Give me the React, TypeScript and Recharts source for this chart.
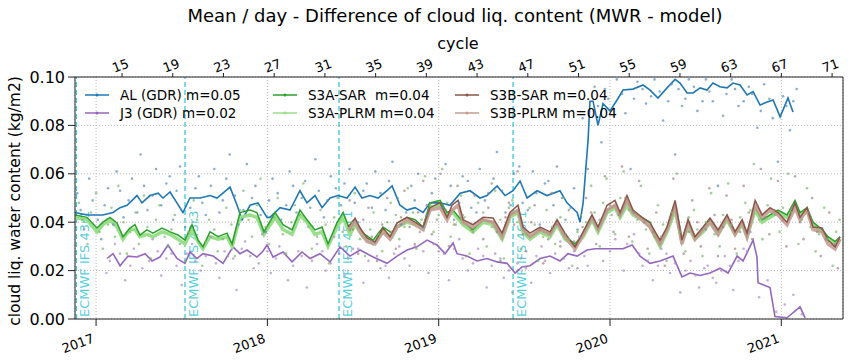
import React from 'react';
import { ComposedChart, Line, Scatter, XAxis, YAxis, CartesianGrid, ReferenceLine } from 'recharts';

const FONT = '"DejaVu Sans", Verdana, sans-serif';

// axes
const YEAR_TICKS = [2017, 2018, 2019, 2020, 2021];
const CYCLE_TICKS = [15, 19, 23, 27, 31, 35, 39, 43, 47, 51, 55, 59, 63, 67, 71];
const Y_TICKS = [0, 0.02, 0.04, 0.06, 0.08, 0.1];
const X_DOMAIN: [number, number] = [2016.877, 2021.36];
const CYCLE_DOMAIN: [number, number] = [11.29, 71.86];

// ECMWF model changes (decimal year)
const IFS_DATES = [2016.885, 2017.519, 2018.418, 2019.434];
const IFS_LABELS = ['ECMWF IFS 43r1', 'ECMWF IFS 43r3', 'ECMWF IFS 45r1', 'ECMWF IFS 46r1'];

const LEGEND_LABELS = ['AL (GDR) m=0.05', 'J3 (GDR) m=0.02', 'S3A-SAR  m=0.04', 'S3A-PLRM m=0.04', 'S3B-SAR m=0.04', 'S3B-PLRM m=0.04'];

// running means [decimal year, kg/m2]
const AL_MEAN: [number, number][] = [
  [2016.877, 0.044], [2016.947, 0.043], [2017.04, 0.043], [2017.099, 0.044], [2017.14, 0.046], [2017.181, 0.047],
  [2017.239, 0.051], [2017.268, 0.048], [2017.315, 0.051], [2017.362, 0.052], [2017.391, 0.05], [2017.432, 0.0525],
  [2017.472, 0.048], [2017.507, 0.044], [2017.548, 0.05], [2017.607, 0.05], [2017.665, 0.051], [2017.706, 0.05],
  [2017.782, 0.0545], [2017.823, 0.047], [2017.852, 0.041], [2017.899, 0.047], [2017.945, 0.048], [2017.998, 0.042],
  [2018.015, 0.042], [2018.074, 0.046], [2018.132, 0.045], [2018.19, 0.053], [2018.231, 0.048], [2018.278, 0.051],
  [2018.319, 0.046], [2018.366, 0.05], [2018.412, 0.051], [2018.465, 0.05], [2018.512, 0.0545], [2018.552, 0.05],
  [2018.599, 0.051], [2018.646, 0.05], [2018.698, 0.053], [2018.728, 0.055], [2018.774, 0.047], [2018.815, 0.045],
  [2018.862, 0.046], [2018.909, 0.044], [2018.949, 0.048], [2019.008, 0.048], [2019.066, 0.047], [2019.125, 0.052],
  [2019.183, 0.053], [2019.241, 0.05], [2019.282, 0.051], [2019.341, 0.055], [2019.387, 0.051], [2019.434, 0.053],
  [2019.475, 0.057], [2019.516, 0.05], [2019.574, 0.053], [2019.632, 0.051], [2019.708, 0.053], [2019.749, 0.048],
  [2019.808, 0.044], [2019.825, 0.04], [2019.843, 0.048], [2019.872, 0.074], [2019.883, 0.09], [2019.901, 0.09],
  [2019.93, 0.08], [2019.959, 0.089], [2020.0, 0.086], [2020.041, 0.0905], [2020.076, 0.0946], [2020.134, 0.095],
  [2020.193, 0.0967], [2020.234, 0.0946], [2020.28, 0.0913], [2020.333, 0.0955], [2020.38, 0.099], [2020.409, 0.0975],
  [2020.45, 0.0934], [2020.485, 0.0934], [2020.526, 0.0955], [2020.566, 0.0946], [2020.601, 0.0975], [2020.642, 0.096],
  [2020.683, 0.0955], [2020.718, 0.0975], [2020.759, 0.0967], [2020.8, 0.0926], [2020.835, 0.094], [2020.876, 0.0884],
  [2020.917, 0.0897], [2020.952, 0.0905], [2020.993, 0.0835], [2021.039, 0.0913], [2021.068, 0.0855],
];

const J3_MEAN: [number, number][] = [
  [2017.064, 0.025], [2017.099, 0.027], [2017.14, 0.022], [2017.186, 0.026], [2017.239, 0.0256], [2017.286, 0.027],
  [2017.327, 0.024], [2017.373, 0.0256], [2017.42, 0.0306], [2017.472, 0.025], [2017.519, 0.023], [2017.548, 0.0277],
  [2017.589, 0.025], [2017.624, 0.027], [2017.683, 0.026], [2017.741, 0.023], [2017.799, 0.0298], [2017.84, 0.027],
  [2017.881, 0.0285], [2017.939, 0.0256], [2017.974, 0.028], [2017.998, 0.0306], [2018.033, 0.0256], [2018.091, 0.0277],
  [2018.144, 0.0236], [2018.202, 0.0277], [2018.249, 0.025], [2018.307, 0.027], [2018.366, 0.0236], [2018.424, 0.0298],
  [2018.482, 0.026], [2018.541, 0.0285], [2018.617, 0.0256], [2018.698, 0.023], [2018.757, 0.026], [2018.815, 0.0285],
  [2018.873, 0.0298], [2018.932, 0.0326], [2018.99, 0.0306], [2019.037, 0.027], [2019.084, 0.0314], [2019.107, 0.027],
  [2019.165, 0.026], [2019.224, 0.024], [2019.282, 0.025], [2019.341, 0.0236], [2019.399, 0.023], [2019.446, 0.019],
  [2019.486, 0.0215], [2019.533, 0.022], [2019.592, 0.025], [2019.65, 0.026], [2019.708, 0.024], [2019.755, 0.027],
  [2019.808, 0.026], [2019.866, 0.0285], [2019.913, 0.029], [2020.076, 0.029], [2020.129, 0.0306], [2020.175, 0.026],
  [2020.234, 0.023], [2020.292, 0.024], [2020.368, 0.026], [2020.42, 0.0174], [2020.467, 0.019], [2020.526, 0.018],
  [2020.584, 0.019], [2020.642, 0.021], [2020.689, 0.019], [2020.742, 0.026], [2020.777, 0.024], [2020.835, 0.0326],
  [2020.858, 0.0256], [2020.864, 0.015], [2020.934, 0.013], [2020.963, 0.001], [2021.033, 0.0005], [2021.109, 0.005],
  [2021.139, 0.0005],
];

const S3A_SAR: [number, number][] = [
  [2016.877, 0.043], [2016.947, 0.042], [2017.005, 0.0376], [2017.04, 0.04], [2017.081, 0.042], [2017.122, 0.0397],
  [2017.157, 0.034], [2017.198, 0.0376], [2017.227, 0.039], [2017.256, 0.0347], [2017.297, 0.0368], [2017.332, 0.0355],
  [2017.385, 0.0376], [2017.432, 0.036], [2017.478, 0.0347], [2017.519, 0.0326], [2017.56, 0.039], [2017.595, 0.0326],
  [2017.624, 0.0298], [2017.665, 0.036], [2017.712, 0.034], [2017.764, 0.0355], [2017.794, 0.031], [2017.84, 0.044],
  [2017.899, 0.045], [2017.939, 0.044], [2017.98, 0.036], [2018.045, 0.044], [2018.091, 0.039], [2018.144, 0.0368],
  [2018.19, 0.045], [2018.231, 0.041], [2018.278, 0.0368], [2018.319, 0.038], [2018.354, 0.031], [2018.406, 0.0397],
  [2018.442, 0.044], [2018.482, 0.0368], [2018.512, 0.041], [2018.558, 0.0355], [2018.617, 0.0326], [2018.675, 0.038],
  [2018.728, 0.0355], [2018.757, 0.0397], [2018.815, 0.042], [2018.862, 0.041], [2018.909, 0.038], [2018.949, 0.048],
  [2019.008, 0.049], [2019.049, 0.044], [2019.084, 0.045], [2019.142, 0.04], [2019.2, 0.037], [2019.259, 0.041],
  [2019.317, 0.04], [2019.37, 0.034], [2019.416, 0.043], [2019.463, 0.045], [2019.492, 0.037], [2019.533, 0.034],
  [2019.592, 0.037], [2019.65, 0.035], [2019.691, 0.04], [2019.737, 0.034], [2019.796, 0.031], [2019.843, 0.035],
  [2019.895, 0.042], [2019.93, 0.037], [2019.983, 0.045], [2020.029, 0.047], [2020.059, 0.043], [2020.099, 0.049],
  [2020.134, 0.044], [2020.187, 0.042], [2020.234, 0.04], [2020.292, 0.031], [2020.333, 0.037], [2020.38, 0.047],
  [2020.42, 0.033], [2020.456, 0.04], [2020.496, 0.034], [2020.543, 0.037], [2020.584, 0.041], [2020.631, 0.036],
  [2020.683, 0.042], [2020.73, 0.036], [2020.771, 0.04], [2020.8, 0.035], [2020.847, 0.046], [2020.888, 0.041],
  [2020.934, 0.043], [2020.981, 0.045], [2021.033, 0.043], [2021.08, 0.049], [2021.109, 0.044], [2021.15, 0.046],
  [2021.185, 0.04], [2021.238, 0.037], [2021.273, 0.034], [2021.314, 0.032], [2021.343, 0.034],
];

const S3A_PLRM: [number, number][] = [
  [2016.877, 0.042], [2016.947, 0.041], [2017.005, 0.036], [2017.04, 0.039], [2017.081, 0.041], [2017.122, 0.038],
  [2017.157, 0.033], [2017.198, 0.037], [2017.227, 0.037], [2017.256, 0.034], [2017.297, 0.035], [2017.332, 0.034],
  [2017.385, 0.036], [2017.432, 0.035], [2017.478, 0.033], [2017.519, 0.031], [2017.56, 0.037], [2017.595, 0.032],
  [2017.624, 0.029], [2017.665, 0.034], [2017.712, 0.033], [2017.764, 0.034], [2017.794, 0.03], [2017.84, 0.042],
  [2017.899, 0.043], [2017.939, 0.042], [2017.98, 0.035], [2018.045, 0.042], [2018.091, 0.037], [2018.144, 0.035],
  [2018.19, 0.043], [2018.231, 0.04], [2018.278, 0.035], [2018.319, 0.036], [2018.354, 0.03], [2018.406, 0.038],
  [2018.442, 0.042], [2018.482, 0.035], [2018.512, 0.039], [2018.558, 0.034], [2018.617, 0.031], [2018.675, 0.036],
  [2018.728, 0.034], [2018.757, 0.038], [2018.815, 0.04], [2018.862, 0.039], [2018.909, 0.037], [2018.949, 0.046],
  [2019.008, 0.047], [2019.049, 0.043], [2019.084, 0.044], [2019.142, 0.039], [2019.2, 0.036], [2019.259, 0.04],
  [2019.317, 0.039], [2019.37, 0.033], [2019.416, 0.042], [2019.463, 0.044], [2019.492, 0.036], [2019.533, 0.033],
  [2019.592, 0.036], [2019.65, 0.034], [2019.691, 0.039], [2019.737, 0.033], [2019.796, 0.03], [2019.843, 0.034],
  [2019.895, 0.041], [2019.93, 0.036], [2019.983, 0.044], [2020.029, 0.046], [2020.059, 0.042], [2020.099, 0.047],
  [2020.134, 0.043], [2020.187, 0.041], [2020.234, 0.038], [2020.292, 0.03], [2020.333, 0.036], [2020.38, 0.045],
  [2020.42, 0.032], [2020.456, 0.038], [2020.496, 0.033], [2020.543, 0.036], [2020.584, 0.04], [2020.631, 0.035],
  [2020.683, 0.041], [2020.73, 0.035], [2020.771, 0.039], [2020.8, 0.034], [2020.847, 0.045], [2020.888, 0.04],
  [2020.934, 0.042], [2020.981, 0.044], [2021.033, 0.042], [2021.08, 0.047], [2021.109, 0.043], [2021.15, 0.045],
  [2021.185, 0.039], [2021.238, 0.036], [2021.273, 0.033], [2021.314, 0.031], [2021.343, 0.033],
];

const S3B_SAR: [number, number][] = [
  [2018.471, 0.038], [2018.512, 0.0417], [2018.541, 0.0376], [2018.582, 0.0335], [2018.628, 0.0318], [2018.675, 0.0376],
  [2018.716, 0.034], [2018.757, 0.0397], [2018.815, 0.042], [2018.862, 0.04], [2018.909, 0.038], [2018.949, 0.046],
  [2019.008, 0.048], [2019.049, 0.042], [2019.078, 0.047], [2019.113, 0.049], [2019.142, 0.041], [2019.2, 0.039],
  [2019.259, 0.042], [2019.317, 0.0417], [2019.37, 0.0355], [2019.416, 0.044], [2019.463, 0.047], [2019.492, 0.038],
  [2019.533, 0.0355], [2019.592, 0.038], [2019.65, 0.036], [2019.691, 0.041], [2019.737, 0.0355], [2019.796, 0.0298],
  [2019.843, 0.036], [2019.895, 0.043], [2019.93, 0.038], [2019.983, 0.047], [2020.029, 0.049], [2020.059, 0.044],
  [2020.099, 0.051], [2020.134, 0.045], [2020.187, 0.042], [2020.234, 0.0397], [2020.292, 0.0326], [2020.333, 0.038],
  [2020.38, 0.049], [2020.42, 0.0326], [2020.456, 0.041], [2020.496, 0.034], [2020.543, 0.038], [2020.584, 0.0417],
  [2020.631, 0.0368], [2020.683, 0.043], [2020.73, 0.036], [2020.771, 0.041], [2020.8, 0.0355], [2020.847, 0.049],
  [2020.888, 0.043], [2020.934, 0.046], [2020.981, 0.044], [2021.033, 0.04], [2021.08, 0.048], [2021.109, 0.042],
  [2021.15, 0.046], [2021.185, 0.038], [2021.238, 0.0376], [2021.273, 0.0326], [2021.314, 0.0298], [2021.343, 0.034],
];

const S3B_PLRM: [number, number][] = [
  [2018.471, 0.037], [2018.512, 0.04], [2018.541, 0.036], [2018.582, 0.032], [2018.628, 0.031], [2018.675, 0.036],
  [2018.716, 0.033], [2018.757, 0.038], [2018.815, 0.041], [2018.862, 0.039], [2018.909, 0.037], [2018.949, 0.045],
  [2019.008, 0.046], [2019.049, 0.041], [2019.078, 0.045], [2019.113, 0.047], [2019.142, 0.04], [2019.2, 0.038],
  [2019.259, 0.041], [2019.317, 0.04], [2019.37, 0.034], [2019.416, 0.043], [2019.463, 0.045], [2019.492, 0.037],
  [2019.533, 0.034], [2019.592, 0.037], [2019.65, 0.035], [2019.691, 0.04], [2019.737, 0.034], [2019.796, 0.029],
  [2019.843, 0.035], [2019.895, 0.042], [2019.93, 0.037], [2019.983, 0.045], [2020.029, 0.047], [2020.059, 0.043],
  [2020.099, 0.049], [2020.134, 0.044], [2020.187, 0.041], [2020.234, 0.038], [2020.292, 0.031], [2020.333, 0.037],
  [2020.38, 0.047], [2020.42, 0.031], [2020.456, 0.04], [2020.496, 0.033], [2020.543, 0.037], [2020.584, 0.04],
  [2020.631, 0.035], [2020.683, 0.042], [2020.73, 0.035], [2020.771, 0.04], [2020.8, 0.034], [2020.847, 0.047],
  [2020.888, 0.042], [2020.934, 0.045], [2020.981, 0.043], [2021.033, 0.039], [2021.08, 0.046], [2021.109, 0.041],
  [2021.15, 0.045], [2021.185, 0.037], [2021.238, 0.036], [2021.273, 0.031], [2021.314, 0.029], [2021.343, 0.033],
];

// daily values (faint dots)
const AL_DAILY: [number, number][] = [
  [2016.89, 0.052], [2016.93, 0.037], [2016.98, 0.049], [2017.03, 0.033], [2017.07, 0.054], [2017.12, 0.061],
  [2017.16, 0.042], [2017.21, 0.058], [2017.26, 0.068], [2017.3, 0.045], [2017.35, 0.062], [2017.41, 0.056],
  [2017.45, 0.041], [2017.49, 0.063], [2017.55, 0.046], [2017.6, 0.059], [2017.64, 0.043], [2017.69, 0.062],
  [2017.74, 0.049], [2017.78, 0.068], [2017.83, 0.039], [2017.88, 0.064], [2017.93, 0.055], [2017.99, 0.036],
  [2018.03, 0.058], [2018.08, 0.041], [2018.13, 0.061], [2018.17, 0.044], [2018.22, 0.057], [2018.28, 0.066],
  [2018.33, 0.042], [2018.37, 0.059], [2018.43, 0.047], [2018.48, 0.062], [2018.53, 0.04], [2018.58, 0.056],
  [2018.63, 0.061], [2018.69, 0.045], [2018.73, 0.065], [2018.78, 0.039], [2018.84, 0.055], [2018.88, 0.06],
  [2018.93, 0.043], [2018.98, 0.058], [2019.04, 0.064], [2019.09, 0.041], [2019.14, 0.059], [2019.19, 0.046],
  [2019.24, 0.062], [2019.29, 0.052], [2019.34, 0.069], [2019.39, 0.044], [2019.44, 0.06], [2019.49, 0.048],
  [2019.55, 0.061], [2019.59, 0.039], [2019.64, 0.057], [2019.69, 0.063], [2019.74, 0.041], [2019.79, 0.054],
  [2019.84, 0.083], [2019.87, 0.062], [2019.91, 0.096], [2019.95, 0.073], [2019.99, 0.091], [2020.04, 0.099],
  [2020.09, 0.085], [2020.12, 0.062], [2020.16, 0.098], [2020.21, 0.089], [2020.26, 0.099], [2020.31, 0.082],
  [2020.36, 0.097], [2020.38, 0.068], [2020.42, 0.088], [2020.46, 0.099], [2020.51, 0.086], [2020.56, 0.099],
  [2020.6, 0.09], [2020.63, 0.055], [2020.66, 0.084], [2020.71, 0.099], [2020.75, 0.088], [2020.81, 0.096],
  [2020.86, 0.079], [2020.9, 0.097], [2020.95, 0.083], [2020.98, 0.065], [2021.01, 0.092], [2021.05, 0.078],
  [2021.09, 0.095],
  [2016.91, 0.045], [2016.96, 0.058], [2017.01, 0.041], [2017.05, 0.047], [2017.1, 0.039], [2017.14, 0.053],
  [2017.19, 0.049], [2017.24, 0.044], [2017.28, 0.055], [2017.33, 0.051], [2017.38, 0.047], [2017.43, 0.059],
  [2017.47, 0.053], [2017.52, 0.038], [2017.58, 0.054], [2017.62, 0.048], [2017.67, 0.055], [2017.72, 0.044],
  [2017.76, 0.058], [2017.81, 0.051], [2017.86, 0.045], [2017.91, 0.05], [2017.96, 0.043], [2018.01, 0.049],
  [2018.06, 0.052], [2018.11, 0.047], [2018.15, 0.055], [2018.2, 0.05], [2018.25, 0.046], [2018.3, 0.053],
  [2018.35, 0.049], [2018.4, 0.054], [2018.45, 0.056], [2018.51, 0.048], [2018.56, 0.053], [2018.61, 0.046],
  [2018.66, 0.052], [2018.71, 0.057], [2018.76, 0.05], [2018.81, 0.044], [2018.86, 0.049], [2018.91, 0.038],
  [2018.96, 0.052], [2019.02, 0.046], [2019.07, 0.055], [2019.12, 0.048], [2019.17, 0.057], [2019.22, 0.044],
  [2019.27, 0.049], [2019.32, 0.058], [2019.37, 0.053], [2019.42, 0.047], [2019.47, 0.063], [2019.52, 0.045],
  [2019.57, 0.052], [2019.62, 0.056], [2019.67, 0.047], [2019.72, 0.05], [2019.77, 0.046], [2019.81, 0.037],
  [2019.93, 0.088], [2019.97, 0.095], [2020.02, 0.087], [2020.07, 0.093], [2020.14, 0.091], [2020.19, 0.095],
  [2020.24, 0.092], [2020.29, 0.094], [2020.34, 0.09], [2020.4, 0.095], [2020.44, 0.091], [2020.49, 0.096],
  [2020.54, 0.09], [2020.58, 0.094], [2020.68, 0.093], [2020.73, 0.095], [2020.78, 0.09], [2020.83, 0.093],
  [2020.88, 0.086], [2020.93, 0.091], [2021.03, 0.088], [2021.07, 0.09],
];

const J3_DAILY: [number, number][] = [
  [2017.06, 0.019], [2017.11, 0.031], [2017.17, 0.016], [2017.22, 0.029], [2017.27, 0.021], [2017.33, 0.033],
  [2017.38, 0.018], [2017.44, 0.027], [2017.5, 0.014], [2017.56, 0.031], [2017.61, 0.02], [2017.67, 0.034],
  [2017.72, 0.017], [2017.77, 0.026], [2017.82, 0.012], [2017.87, 0.032], [2017.92, 0.021], [2017.97, 0.035],
  [2018.02, 0.019], [2018.07, 0.03], [2018.12, 0.016], [2018.18, 0.028], [2018.23, 0.013], [2018.29, 0.031],
  [2018.34, 0.02], [2018.39, 0.034], [2018.45, 0.018], [2018.5, 0.029], [2018.56, 0.015], [2018.61, 0.032],
  [2018.66, 0.021], [2018.71, 0.017], [2018.77, 0.03], [2018.83, 0.022], [2018.89, 0.036], [2018.94, 0.019],
  [2019.0, 0.028], [2019.06, 0.016], [2019.12, 0.033], [2019.17, 0.02], [2019.23, 0.029], [2019.28, 0.013],
  [2019.33, 0.027], [2019.38, 0.017], [2019.43, 0.011], [2019.48, 0.025], [2019.54, 0.015], [2019.6, 0.03],
  [2019.65, 0.019], [2019.71, 0.032], [2019.76, 0.021], [2019.82, 0.034], [2019.87, 0.022], [2019.96, 0.024],
  [2020.03, 0.033], [2020.08, 0.02], [2020.14, 0.035], [2020.19, 0.022], [2020.25, 0.016], [2020.3, 0.029],
  [2020.35, 0.019], [2020.41, 0.011], [2020.47, 0.024], [2020.52, 0.013], [2020.57, 0.022], [2020.62, 0.015],
  [2020.67, 0.026], [2020.72, 0.012], [2020.78, 0.029], [2020.82, 0.036], [2020.87, 0.009], [2020.92, 0.016],
  [2020.97, 0.003], [2021.02, 0.006], [2021.07, 0.01], [2021.12, 0.002],
  [2017.08, 0.024], [2017.14, 0.027], [2017.2, 0.022], [2017.25, 0.026], [2017.31, 0.024], [2017.36, 0.028],
  [2017.41, 0.025], [2017.47, 0.022], [2017.53, 0.027], [2017.58, 0.024], [2017.64, 0.026], [2017.7, 0.023],
  [2017.75, 0.028], [2017.8, 0.025], [2017.85, 0.029], [2017.9, 0.026], [2017.95, 0.023], [2018.0, 0.028],
  [2018.05, 0.025], [2018.1, 0.027], [2018.15, 0.022], [2018.2, 0.026], [2018.26, 0.024], [2018.32, 0.028],
  [2018.37, 0.023], [2018.42, 0.027], [2018.47, 0.025], [2018.53, 0.029], [2018.59, 0.024], [2018.64, 0.026],
  [2018.69, 0.022], [2018.74, 0.027], [2018.8, 0.025], [2018.86, 0.03], [2018.91, 0.028], [2018.97, 0.031],
  [2019.03, 0.027], [2019.09, 0.029], [2019.14, 0.025], [2019.2, 0.023], [2019.26, 0.026], [2019.31, 0.022],
  [2019.36, 0.025], [2019.41, 0.02], [2019.46, 0.023], [2019.51, 0.021], [2019.57, 0.026], [2019.62, 0.024],
  [2019.68, 0.027], [2019.73, 0.025], [2019.79, 0.028], [2019.85, 0.026], [2020.0, 0.028], [2020.1, 0.031],
  [2020.17, 0.027], [2020.22, 0.024], [2020.28, 0.022], [2020.33, 0.027], [2020.38, 0.023], [2020.44, 0.02],
  [2020.5, 0.018], [2020.55, 0.021], [2020.6, 0.017], [2020.65, 0.02], [2020.7, 0.022], [2020.75, 0.024],
  [2020.8, 0.028],
];

const S3A_DAILY: [number, number][] = [
  [2016.9, 0.048], [2016.95, 0.031], [2017.0, 0.052], [2017.04, 0.029], [2017.09, 0.046], [2017.13, 0.055],
  [2017.18, 0.027], [2017.23, 0.044], [2017.28, 0.051], [2017.32, 0.025], [2017.37, 0.047], [2017.42, 0.03],
  [2017.46, 0.043], [2017.52, 0.024], [2017.57, 0.049], [2017.62, 0.022], [2017.66, 0.041], [2017.71, 0.028],
  [2017.76, 0.046], [2017.81, 0.026], [2017.86, 0.053], [2017.91, 0.034], [2017.96, 0.058], [2018.01, 0.031],
  [2018.06, 0.05], [2018.11, 0.027], [2018.16, 0.047], [2018.21, 0.056], [2018.26, 0.029], [2018.31, 0.045],
  [2018.36, 0.023], [2018.41, 0.05], [2018.46, 0.03], [2018.51, 0.052], [2018.57, 0.026], [2018.62, 0.044],
  [2018.67, 0.028], [2018.72, 0.048], [2018.77, 0.033], [2018.82, 0.054], [2018.87, 0.029], [2018.92, 0.059],
  [2018.97, 0.036], [2019.02, 0.062], [2019.07, 0.034], [2019.13, 0.051], [2019.18, 0.027], [2019.23, 0.048],
  [2019.28, 0.03], [2019.33, 0.053], [2019.38, 0.025], [2019.43, 0.049], [2019.48, 0.029], [2019.53, 0.046],
  [2019.58, 0.024], [2019.63, 0.045], [2019.68, 0.031], [2019.73, 0.05], [2019.78, 0.022], [2019.83, 0.043],
  [2019.89, 0.055], [2019.94, 0.03], [2019.98, 0.058], [2020.03, 0.035], [2020.08, 0.061], [2020.13, 0.032],
  [2020.18, 0.055], [2020.23, 0.027], [2020.28, 0.047], [2020.33, 0.024], [2020.39, 0.06], [2020.44, 0.028],
  [2020.49, 0.045], [2020.54, 0.026], [2020.59, 0.052], [2020.64, 0.03], [2020.69, 0.056], [2020.74, 0.027],
  [2020.79, 0.048], [2020.84, 0.064], [2020.89, 0.033], [2020.94, 0.058], [2020.99, 0.036], [2021.04, 0.06],
  [2021.1, 0.031], [2021.15, 0.054], [2021.2, 0.028], [2021.25, 0.046], [2021.3, 0.022], [2021.34, 0.041],
  [2016.92, 0.041], [2016.97, 0.044], [2017.02, 0.036], [2017.07, 0.039], [2017.11, 0.034], [2017.16, 0.04],
  [2017.2, 0.036], [2017.25, 0.031], [2017.3, 0.038], [2017.35, 0.041], [2017.4, 0.034], [2017.44, 0.037],
  [2017.49, 0.031], [2017.54, 0.036], [2017.59, 0.041], [2017.64, 0.032], [2017.69, 0.037], [2017.74, 0.033],
  [2017.79, 0.039], [2017.84, 0.045], [2017.89, 0.041], [2017.94, 0.047], [2017.99, 0.038], [2018.04, 0.042],
  [2018.09, 0.035], [2018.14, 0.04], [2018.19, 0.043], [2018.24, 0.038], [2018.29, 0.034], [2018.34, 0.039],
  [2018.39, 0.042], [2018.44, 0.036], [2018.49, 0.04], [2018.54, 0.033], [2018.6, 0.037], [2018.65, 0.035],
  [2018.7, 0.04], [2018.75, 0.043], [2018.8, 0.038], [2018.85, 0.044], [2018.9, 0.041], [2018.95, 0.047],
  [2019.0, 0.043], [2019.05, 0.048], [2019.1, 0.039], [2019.15, 0.042], [2019.2, 0.036], [2019.26, 0.044],
  [2019.31, 0.038], [2019.36, 0.041], [2019.41, 0.046], [2019.46, 0.04], [2019.51, 0.035], [2019.56, 0.039],
  [2019.61, 0.034], [2019.66, 0.038], [2019.71, 0.042], [2019.76, 0.033], [2019.81, 0.036], [2019.86, 0.04],
  [2019.91, 0.044], [2019.96, 0.048], [2020.01, 0.043], [2020.06, 0.05], [2020.11, 0.045], [2020.16, 0.041],
  [2020.21, 0.037], [2020.26, 0.034], [2020.31, 0.039], [2020.36, 0.044], [2020.41, 0.036], [2020.46, 0.042],
  [2020.51, 0.037], [2020.56, 0.04], [2020.61, 0.035], [2020.66, 0.043], [2020.71, 0.039], [2020.76, 0.042],
  [2020.82, 0.045], [2020.87, 0.041], [2020.92, 0.047], [2020.96, 0.043], [2021.01, 0.046], [2021.06, 0.044],
  [2021.12, 0.041], [2021.17, 0.038], [2021.22, 0.035], [2021.27, 0.033], [2021.32, 0.036],
];

const S3B_DAILY: [number, number][] = [
  [2018.48, 0.049], [2018.53, 0.027], [2018.59, 0.046], [2018.64, 0.024], [2018.7, 0.05], [2018.75, 0.029],
  [2018.8, 0.053], [2018.86, 0.031], [2018.91, 0.057], [2018.96, 0.035], [2019.01, 0.06], [2019.06, 0.03],
  [2019.11, 0.055], [2019.16, 0.026], [2019.21, 0.051], [2019.26, 0.033], [2019.31, 0.056], [2019.36, 0.024],
  [2019.41, 0.048], [2019.46, 0.061], [2019.51, 0.028], [2019.56, 0.047], [2019.61, 0.023], [2019.66, 0.052],
  [2019.71, 0.03], [2019.76, 0.045], [2019.81, 0.021], [2019.86, 0.05], [2019.92, 0.031], [2019.97, 0.059],
  [2020.02, 0.036], [2020.07, 0.063], [2020.11, 0.034], [2020.17, 0.057], [2020.22, 0.029], [2020.27, 0.044],
  [2020.32, 0.022], [2020.37, 0.058], [2020.43, 0.027], [2020.48, 0.049], [2020.53, 0.03], [2020.58, 0.054],
  [2020.63, 0.026], [2020.68, 0.051], [2020.73, 0.029], [2020.78, 0.055], [2020.83, 0.033], [2020.88, 0.062],
  [2020.93, 0.035], [2020.98, 0.057], [2021.03, 0.03], [2021.08, 0.059], [2021.13, 0.033], [2021.18, 0.05],
  [2021.23, 0.026], [2021.28, 0.044], [2021.33, 0.021],
  [2018.5, 0.037], [2018.56, 0.041], [2018.61, 0.034], [2018.67, 0.039], [2018.72, 0.036], [2018.78, 0.042],
  [2018.83, 0.038], [2018.88, 0.044], [2018.93, 0.047], [2018.99, 0.041], [2019.04, 0.045], [2019.09, 0.039],
  [2019.14, 0.043], [2019.19, 0.037], [2019.24, 0.041], [2019.29, 0.046], [2019.34, 0.036], [2019.39, 0.042],
  [2019.44, 0.039], [2019.49, 0.035], [2019.54, 0.04], [2019.59, 0.037], [2019.64, 0.033], [2019.69, 0.039],
  [2019.74, 0.035], [2019.79, 0.032], [2019.84, 0.038], [2019.89, 0.044], [2019.94, 0.041], [2020.0, 0.047],
  [2020.05, 0.043], [2020.09, 0.05], [2020.14, 0.044], [2020.2, 0.04], [2020.25, 0.036], [2020.3, 0.034],
  [2020.35, 0.042], [2020.4, 0.038], [2020.46, 0.036], [2020.51, 0.04], [2020.56, 0.037], [2020.61, 0.043],
  [2020.66, 0.038], [2020.71, 0.041], [2020.76, 0.036], [2020.81, 0.044], [2020.86, 0.047], [2020.91, 0.042],
  [2020.96, 0.045], [2021.01, 0.041], [2021.06, 0.046], [2021.11, 0.04], [2021.16, 0.044], [2021.21, 0.036],
  [2021.26, 0.033], [2021.31, 0.031],
];

const COLORS = {
  al: '#1f77b4',
  j3: '#9467bd',
  s3aSar: '#2ca02c',
  s3aPlrm: '#98df8a',
  s3bSar: '#8c564b',
  s3bPlrm: '#c49c94',
};

const toPoints = (rows: [number, number][]) => rows.map(([t, v]) => ({ t, v }));

// only there so the top (cycle) axis gets drawn
const cycleAnchor = CYCLE_TICKS.map((c) => ({ c, v: null }));

const dotShape = (fill: string) => (props: any) => {
  if (props.cx == null || props.cy == null) return <g />;
  return <circle cx={props.cx} cy={props.cy} r={1.3} fill={fill} fillOpacity={0.7} />;
};

const CycleTick = ({ x, y, payload }: any) => (
  <text x={x} y={y - 1} transform={`rotate(-20 ${x} ${y - 1})`} textAnchor="middle" fontSize={13} fontFamily={FONT} fill="#000">
    {payload.value}
  </text>
);

const YearTick = ({ x, y, payload }: any) => (
  <text x={x - 1} y={y + 14} transform={`rotate(-20 ${x - 1} ${y + 14})`} textAnchor="end" fontSize={13} fontFamily={FONT} fill="#000">
    {payload.value}
  </text>
);

const IfsLabel = ({ viewBox, text }: any) => {
  if (!viewBox) return null;
  const x = viewBox.x + 13;
  const y = viewBox.y + viewBox.height - 2;
  return (
    <text x={x} y={y} transform={`rotate(-90 ${x} ${y})`} fontSize={13} fontFamily={FONT} fill="#17becf" fillOpacity={0.75}>
      {text}
    </text>
  );
};

const LegendSwatch: React.FC<{ color: string }> = ({ color }) => (
  <svg width={24} height={10} style={{ display: 'block' }}>
    <line x1={0} y1={5} x2={24} y2={5} stroke={color} strokeWidth={1.5} />
    <circle cx={12} cy={5} r={1.5} fill={color} />
  </svg>
);

const LEGEND_COLORS = [COLORS.al, COLORS.j3, COLORS.s3aSar, COLORS.s3aPlrm, COLORS.s3bSar, COLORS.s3bPlrm];
const LEGEND_POS = [
  [85, 95], [85, 113], [273, 95], [273, 113], [455, 95], [455, 113],
];

const App: React.FC = () => {
  return (
    <div style={{ position: 'absolute', left: 0, top: 0, width: 850, height: 360, background: '#fff', fontFamily: FONT }}>
      <div style={{ position: 'absolute', left: 0, width: 910, top: 5, textAlign: 'center', fontSize: 18, color: '#000' }}>
        Mean / day - Difference of cloud liq. content (MWR - model)
      </div>
      <div style={{ position: 'absolute', left: 458, top: 34, transform: 'translateX(-50%)', fontSize: 16, color: '#000' }}>
        cycle
      </div>
      <div
        style={{
          position: 'absolute', left: 15, top: 201, transform: 'translate(-50%, -50%) rotate(-90deg)',
          whiteSpace: 'nowrap', fontSize: 15.5, color: '#000',
        }}
      >
        cloud liq. water content (kg/m2)
      </div>

      <ComposedChart width={850} height={360} margin={{ top: 45, right: 7, bottom: 11, left: 30 }}>
        <CartesianGrid stroke="#bbb" strokeDasharray="1 2" />
        <XAxis
          type="number"
          dataKey="t"
          domain={X_DOMAIN}
          allowDataOverflow
          ticks={YEAR_TICKS}
          tick={<YearTick />}
          tickSize={7}
          height={30}
          stroke="#222"
          interval={0}
        />
        <XAxis
          xAxisId="top"
          orientation="top"
          type="number"
          dataKey="c"
          domain={CYCLE_DOMAIN}
          allowDataOverflow
          ticks={CYCLE_TICKS}
          tick={<CycleTick />}
          tickSize={4}
          height={32}
          stroke="#222"
          interval={0}
        />
        <YAxis
          type="number"
          domain={[0, 0.1]}
          allowDataOverflow
          ticks={Y_TICKS}
          tickFormatter={(v: number) => v.toFixed(2)}
          tick={{ fontSize: 16, fill: '#000', fontFamily: FONT }}
          tickSize={7}
          tickMargin={3}
          width={45}
          stroke="#222"
          interval={0}
        />

        {IFS_DATES.map((d, i) => (
          <ReferenceLine
            key={d}
            x={d}
            stroke="#17becf"
            strokeOpacity={0.85}
            strokeDasharray="5 3"
            strokeWidth={1.3}
            label={<IfsLabel text={IFS_LABELS[i]} />}
          />
        ))}
        <ReferenceLine x={X_DOMAIN[1]} stroke="#222" />

        <Line xAxisId="top" data={cycleAnchor} dataKey="v" stroke="none" dot={false} activeDot={false} isAnimationActive={false} />

        <Scatter data={toPoints(AL_DAILY)} dataKey="v" shape={dotShape('#5b8db8')} isAnimationActive={false} />
        <Scatter data={toPoints(J3_DAILY)} dataKey="v" shape={dotShape('#a98cc6')} isAnimationActive={false} />
        <Scatter data={toPoints(S3A_DAILY)} dataKey="v" shape={dotShape('#7cb86c')} isAnimationActive={false} />
        <Scatter data={toPoints(S3B_DAILY)} dataKey="v" shape={dotShape('#9c8580')} isAnimationActive={false} />

        <Line data={toPoints(AL_MEAN)} dataKey="v" stroke={COLORS.al} strokeWidth={1.6} dot={false} activeDot={false} isAnimationActive={false} />
        <Line data={toPoints(J3_MEAN)} dataKey="v" stroke={COLORS.j3} strokeWidth={1.6} dot={false} activeDot={false} isAnimationActive={false} />
        <Line data={toPoints(S3A_PLRM)} dataKey="v" stroke={COLORS.s3aPlrm} strokeWidth={3.5} dot={false} activeDot={false} isAnimationActive={false} />
        <Line data={toPoints(S3A_SAR)} dataKey="v" stroke={COLORS.s3aSar} strokeWidth={1.5} dot={false} activeDot={false} isAnimationActive={false} />
        <Line data={toPoints(S3B_PLRM)} dataKey="v" stroke={COLORS.s3bPlrm} strokeWidth={3.5} strokeOpacity={0.9} dot={false} activeDot={false} isAnimationActive={false} />
        <Line data={toPoints(S3B_SAR)} dataKey="v" stroke={COLORS.s3bSar} strokeWidth={1.5} dot={false} activeDot={false} isAnimationActive={false} />
      </ComposedChart>

      {LEGEND_LABELS.map((label, i) => (
        <div
          key={label}
          style={{
            position: 'absolute', left: LEGEND_POS[i][0], top: LEGEND_POS[i][1] - 9,
            display: 'flex', alignItems: 'center', fontSize: 13.5, color: '#000', whiteSpace: 'pre', lineHeight: '18px',
          }}
        >
          <LegendSwatch color={LEGEND_COLORS[i]} />
          <span style={{ marginLeft: 11 }}>{label}</span>
        </div>
      ))}
    </div>
  );
};

export default App;
